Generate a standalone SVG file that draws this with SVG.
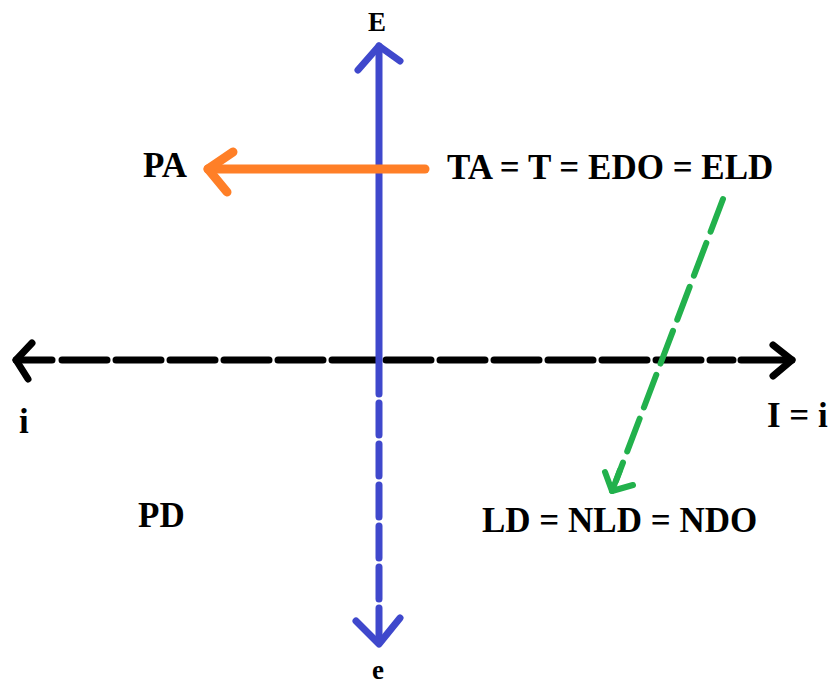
<svg xmlns="http://www.w3.org/2000/svg" width="829" height="685" viewBox="0 0 829 685">
<style>
.s{fill:none;stroke-linecap:round;stroke-linejoin:round}
.blue{stroke:#3F48CC;stroke-width:7}
.black{stroke:#000;stroke-width:7}
.orange{stroke:#FF7F27;stroke-width:9}
.green{stroke:#22B14C;stroke-width:6}
</style>
<rect width="829" height="685" fill="#fff"/>
<g id="connectors">
  <g id="axis-i">
    <line class="s black" x1="16" y1="360" x2="52" y2="360" stroke-linecap="butt"/>
    <line class="s black" x1="62" y1="360" x2="733" y2="360" stroke-dasharray="45 9" stroke-linecap="butt"/>
    <line class="s black" x1="741" y1="360" x2="792" y2="360" stroke-linecap="butt"/>
    <polyline class="s black" points="32,343 16,360 28,379"/>
    <polyline class="s black" points="773,345 792,360 773,376"/>
  </g>
  <g id="axis-e">
    <line class="s blue" x1="379" y1="46" x2="379" y2="360"/>
    <line class="s blue" x1="379" y1="362" x2="379" y2="642" stroke-dasharray="32 9" stroke-linecap="butt"/>
    <polyline class="s blue" points="358,70 379,46 400,61"/>
    <polyline class="s blue" points="356,621 379,644 400,618"/>
  </g>
  <g id="arrow-orange">
    <line class="s orange" x1="425" y1="169" x2="208" y2="169"/>
    <polyline class="s orange" points="233,152 208,169 227,192"/>
  </g>
  <g id="arrow-green">
    <line class="s green" x1="723" y1="199" x2="616" y2="481" stroke-dasharray="35 12" stroke-linecap="butt"/>
    <line class="s green" x1="620" y1="470" x2="612" y2="491"/>
    <polyline class="s green" points="605,472 612,491 633,485"/>
  </g>
</g>
<g font-family="Liberation Serif, Times New Roman, serif" font-weight="bold" fill="#000" font-size="35">
<g id="node-E"><text x="368" y="31" font-size="27">E</text></g>
<g id="node-e"><text x="372" y="679" font-size="27">e</text></g>
<g id="node-i"><text x="19" y="433">i</text></g>
<g id="node-Ii"><text x="767" y="427">I = i</text></g>
<g id="node-PA"><text x="143" y="177">PA</text></g>
<g id="node-PD"><text x="138" y="527">PD</text></g>
<g id="node-TA"><text x="447" y="179">TA = T = EDO = ELD</text></g>
<g id="node-LD"><text x="482" y="532">LD = NLD = NDO</text></g>
</g>
</svg>
